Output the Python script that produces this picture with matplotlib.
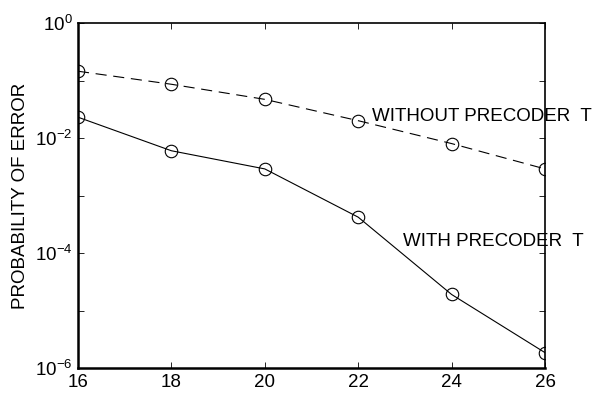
import matplotlib
matplotlib.use('Agg')
import matplotlib.pyplot as plt
import numpy as np

plt.rcParams['font.family'] = ['Liberation Sans', 'DejaVu Sans']
plt.rcParams['mathtext.fontset'] = 'custom'
plt.rcParams['mathtext.rm'] = 'Liberation Sans'
plt.rcParams['mathtext.it'] = 'Liberation Sans'

snr = [16, 18, 20, 22, 24, 26]
without_t = [0.145, 0.086, 0.047, 0.020, 0.008, 0.0029]
with_t = [0.023, 0.006, 0.0029, 4.2e-4, 1.9e-5, 1.85e-6]
yticks = [1e0, 1e-1, 1e-2, 1e-3, 1e-4, 1e-5, 1e-6]
ytick_labels = ['$10^{0}$', '', '$10^{-2}$', '', '$10^{-4}$', '', '$10^{-6}$']

fig = plt.figure(figsize=(6.07, 3.94), dpi=100)
ax = fig.add_axes((78/607, 1-368/394, (545-78)/607, (368-23)/394))

ax.semilogy(snr, without_t, 'k--', lw=0.8, marker='o', ms=9, mfc='none', mew=0.8,
            dashes=(10, 6))
ax.semilogy(snr, with_t, 'k-', lw=0.8, marker='o', ms=9, mfc='none', mew=0.8)

ax.set_xlim(16, 26)
ax.set_ylim(1e-6, 1e0)
ax.set_xticks(snr)
ax.set_yticks(yticks)
ax.set_yticklabels(ytick_labels)
ax.yaxis.set_minor_locator(matplotlib.ticker.NullLocator())
ax.tick_params(direction='in', top=True, right=True, length=4, width=0.6,
               labelsize=13.5, pad=4)
for s in ['left', 'bottom']:
    ax.spines[s].set_linewidth(1.8)
for s in ['top', 'right']:
    ax.spines[s].set_linewidth(1.2)

ax.set_ylabel('PROBABILITY OF ERROR', fontsize=13.5, labelpad=4)

ax.text(22.3, 0.0236, 'WITHOUT PRECODER  T', fontsize=13.5, va='center', ha='left',
        clip_on=False)
ax.text(22.96, 1.6e-4, 'WITH PRECODER  T', fontsize=13.5, va='center', ha='left',
        clip_on=False)

fig.savefig('out.png', dpi=100)
